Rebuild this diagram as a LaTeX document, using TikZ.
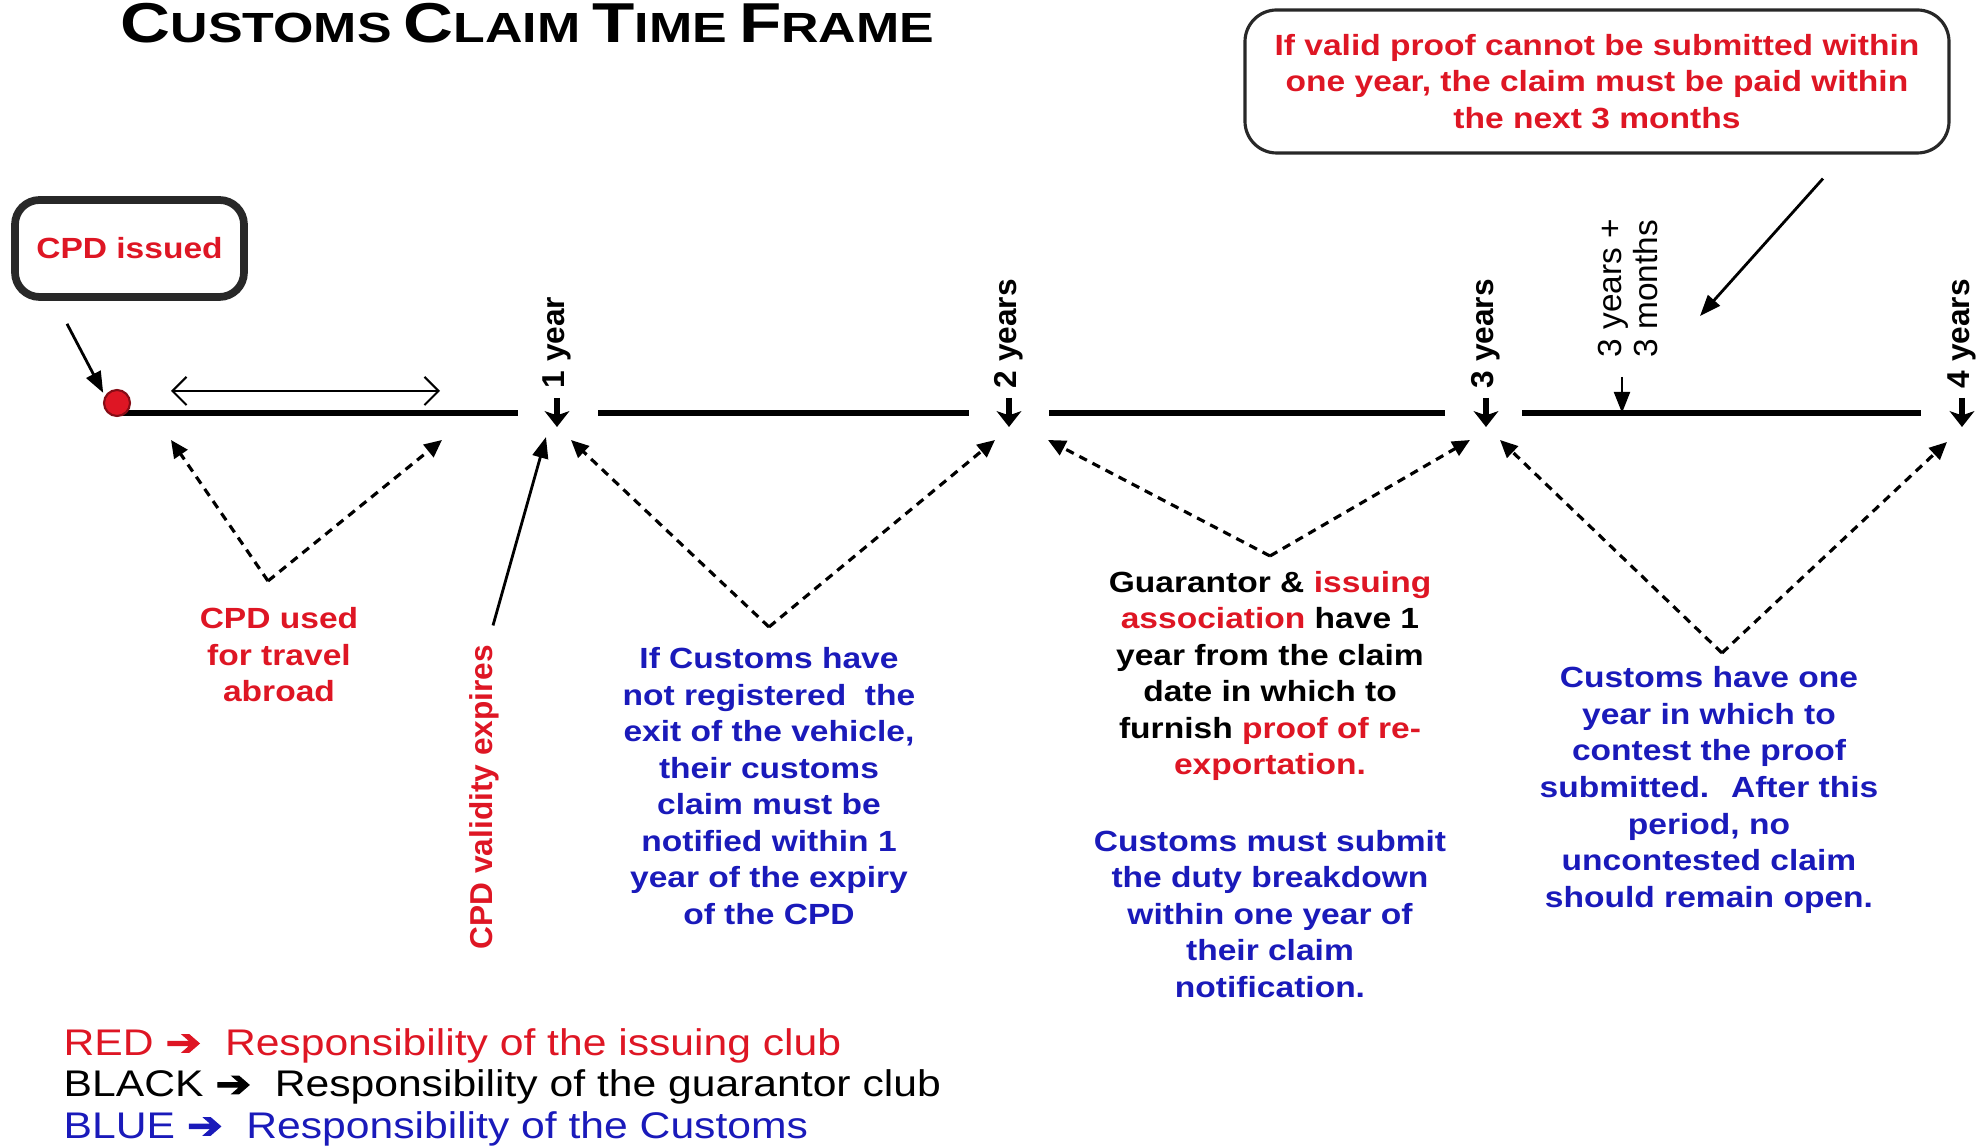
\documentclass[tikz,border=0pt]{standalone}
\usepackage{fontspec}
\setmainfont{Liberation Sans}[FakeStretch=1.15]
\newfontfamily\uprightsans{Liberation Sans}
\newfontfamily\widearrowfont{DejaVu Sans}[FakeStretch=1.15, FakeBold=3]
\usepackage{xcolor}
\usepackage{tikz}
\usetikzlibrary{arrows.meta, positioning, calc}
\definecolor{claimred}{RGB}{222,22,36}
\definecolor{claimblue}{RGB}{26,26,186}
\definecolor{framegray}{RGB}{40,40,40}
\newcommand{\capword}[2]{{\fontsize{16}{18}\selectfont #1}{\fontsize{12}{18}\selectfont #2}}
\tikzset{
  timeline/.style={line width=1.6pt, black},
  tickarrow/.style={-{Stealth[length=4.5pt,width=7pt,inset=1.2pt]}, line width=1.6pt},
  yearmark/.style={
    rotate=90, anchor=west, inner sep=0pt,
    font=\uprightsans\bfseries\fontsize{9}{10}\selectfont
  },
  note/.style={align=center, inner sep=0pt, font=\bfseries\fontsize{8.3}{10.4}\selectfont},
  rednote/.style={note, text=claimred},
  bluenote/.style={note, text=claimblue},
  issuedbox/.style={
    rectangle, rounded corners=7pt, line width=2.2pt, draw=framegray,
    minimum width=2.29cm, minimum height=0.97cm, text=claimred,
    font=\bfseries\fontsize{8.3}{10.4}\selectfont
  },
  calloutbox/.style={
    rectangle, rounded corners=9pt, line width=0.9pt, draw=framegray,
    minimum width=7.04cm, minimum height=1.43cm, align=center, text=claimred,
    font=\bfseries\fontsize{8.3}{10.4}\selectfont
  },
  pointer/.style={-{Triangle[length=6pt,width=4.5pt]}, line width=0.8pt},
  dasharrow/.style={-{Triangle[length=5pt,width=4.5pt]}, line width=0.9pt,
    dash pattern=on 2.4pt off 1.8pt},
  spanarrow/.style={{Straight Barb[length=4pt,width=8pt]}-{Straight Barb[length=4pt,width=8pt]},
    line width=0.6pt},
  legendtext/.style={align=left, inner sep=0pt, font=\fontsize{10.55}{11.8}\selectfont}
}

\begin{document}
\begin{tikzpicture}
  \clip (0,0) rectangle (19.82,11.46);

  % Title
  \node[anchor=base west, inner sep=0pt, font=\bfseries] (title) at (1.20,11.03)
    {\scalebox{1.07}[1]{\capword{C}{USTOMS} \capword{C}{LAIM} \capword{T}{IME} \capword{F}{RAME}}};

  % Time line
  \coordinate (t0) at (1.17,7.33);
  \coordinate (t1) at (5.57,7.33);
  \coordinate (t2) at (10.09,7.33);
  \coordinate (t3) at (14.86,7.33);
  \coordinate (t3m) at (16.22,7.33);
  \coordinate (t4) at (19.62,7.33);
  \draw[timeline] (t0) -- ([xshift=-3.9mm]t1);
  \draw[timeline] ([xshift=4.1mm]t1) -- ([xshift=-4mm]t2);
  \draw[timeline] ([xshift=4mm]t2) -- ([xshift=-4.1mm]t3);
  \draw[timeline] ([xshift=3.6mm]t3) -- ([xshift=-4.1mm]t4);

  % Year marks
  \draw[tickarrow] ([yshift=1.5mm]t1) -- ([yshift=-1.4mm]t1);
  \draw[tickarrow] ([yshift=1.5mm]t2) -- ([yshift=-1.4mm]t2);
  \draw[tickarrow] ([yshift=1.5mm]t3) -- ([yshift=-1.4mm]t3);
  \draw[tickarrow] ([yshift=1.5mm]t4) -- ([yshift=-1.4mm]t4);
  \node[yearmark] (y1) at ([yshift=2.4mm]t1) {1 year};
  \node[yearmark] (y2) at ([yshift=2.4mm]t2) {2 years};
  \node[yearmark] (y3) at ([yshift=2.4mm]t3) {3 years};
  \node[yearmark] (y4) at ([yshift=2.4mm]t4) {4 years};
  \node[yearmark, align=left, font=\uprightsans\fontsize{9.5}{10}\selectfont] (months)
    at (16.28,7.88) {3 years +\\3 months};
  \draw[pointer] ($(t3m |- months.west)+(0,-0.19)$) -- (t3m);

  % Issue point
  \node[issuedbox] (issued) at (1.295,8.975) {CPD issued};
  \node[circle, inner sep=0pt, minimum size=0.26cm, fill=claimred,
        draw=claimred!60!black, line width=0.6pt] (dot) at (1.17,7.43) {};
  \draw[pointer, shorten >=1pt] ([xshift=-6.25mm,yshift=-2.3mm]issued.south) -- (dot.150);
  \coordinate (use1) at (1.71,7.55);
  \coordinate (use2) at (4.40,7.55);
  \draw[spanarrow] (use1) -- (use2);

  % Dashed periods
  \coordinate (v1) at (2.68,5.65);
  \coordinate (v1a) at (1.71,7.06);
  \coordinate (v1b) at (4.42,7.06);
  \coordinate (v2) at (7.69,5.19);
  \coordinate (v2a) at (5.71,7.06);
  \coordinate (v2b) at (9.95,7.06);
  \coordinate (v3) at (12.70,5.90);
  \coordinate (v3a) at (10.48,7.06);
  \coordinate (v3b) at (14.70,7.06);
  \coordinate (v4) at (17.22,4.93);
  \coordinate (v4a) at (15.00,7.06);
  \coordinate (v4b) at (19.47,7.04);
  \draw[dasharrow] (v1) -- (v1a);
  \draw[dasharrow] (v1) -- (v1b);
  \draw[dasharrow] (v2) -- (v2a);
  \draw[dasharrow] (v2) -- (v2b);
  \draw[dasharrow] (v3) -- (v3a);
  \draw[dasharrow] (v3) -- (v3b);
  \draw[dasharrow] (v4) -- (v4a);
  \draw[dasharrow] (v4) -- (v4b);

  % Notes
  \node[rednote] (used) at (2.79,4.91) {CPD used\\for travel\\abroad};
  \node[yearmark, text=claimred] (expires) at (4.84,1.96) {CPD validity expires};
  \coordinate (expirytip) at (5.46,7.09);
  \draw[pointer] ($(expires.east)+(0.09,0.19)$) -- (expirytip);
  \node[bluenote] (notify) at (7.69,3.60)
    {If Customs have\\not registered~ the\\exit of the vehicle,\\their customs\\claim must be\\notified within 1\\year of the expiry\\of the CPD};
  \node[note] (proof) at (12.70,4.70)
    {Guarantor \& \textcolor{claimred}{issuing}\\\textcolor{claimred}{association} have 1\\year from the claim\\date in which to\\furnish \textcolor{claimred}{proof of re-}\\\textcolor{claimred}{exportation.}};
  \node[bluenote] (duty) at (12.70,2.32)
    {Customs must submit\\the duty breakdown\\within one year of\\their claim\\notification.};
  \node[bluenote] (contest) at (17.09,3.56)
    {Customs have one\\year in which to\\contest the proof\\submitted.~ After this\\period, no\\uncontested claim\\should remain open.};

  % Payment callout
  \node[calloutbox] (callout) at (15.97,10.645)
    {If valid proof cannot be submitted within\\one year, the claim must be paid within\\the next 3 months};
  \coordinate (callouttip) at (17.00,8.30);
  \draw[pointer] ([xshift=2.26cm,yshift=-2.4mm]callout.south) -- (callouttip);

  % Legend
  \node[legendtext, anchor=west] (legend) at (0.63,0.59)
    {\textcolor{claimred}{RED {\widearrowfont ➔}~ Responsibility of the issuing club}\\
     BLACK {\widearrowfont ➔}~ Responsibility of the guarantor club\\
     \textcolor{claimblue}{BLUE {\widearrowfont ➔}~ Responsibility of the Customs}};
\end{tikzpicture}
\end{document}
